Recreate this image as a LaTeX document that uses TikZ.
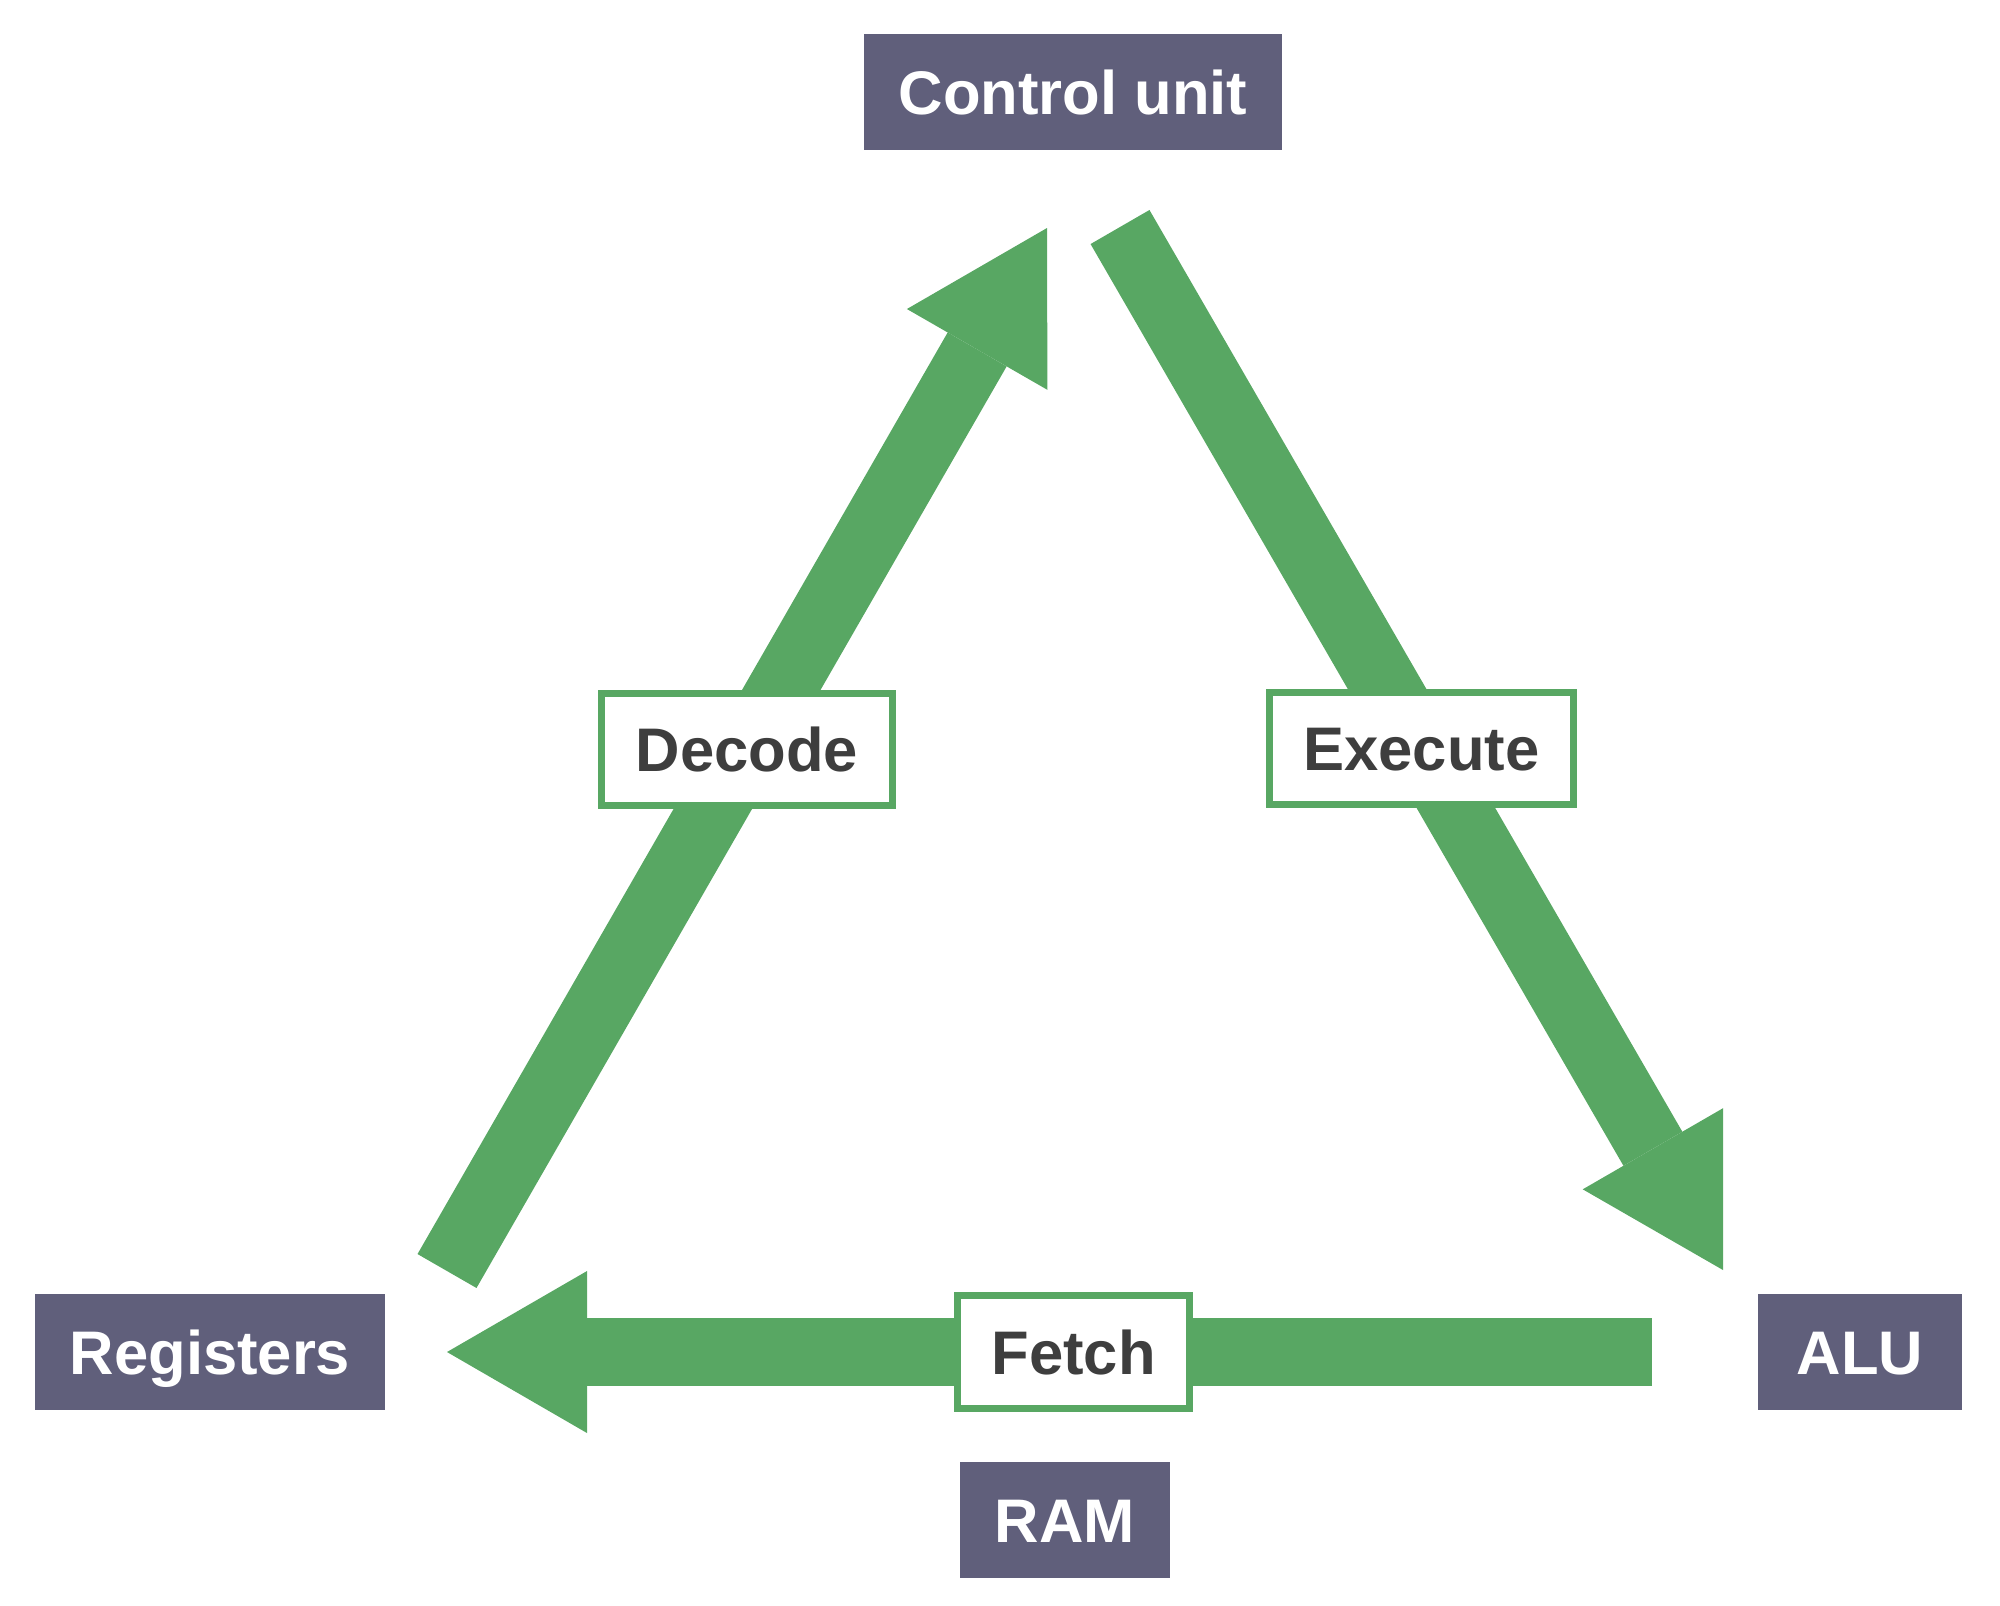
\documentclass[tikz,border=0pt]{standalone}
\usepackage{fontspec}
\setmainfont{Liberation Sans}
\usetikzlibrary{arrows.meta}
\usetikzlibrary{positioning}

\definecolor{unitgray}{RGB}{96,95,123}
\definecolor{flowgreen}{RGB}{88,167,99}
\definecolor{stagetext}{RGB}{62,62,62}

\begin{document}
\begin{tikzpicture}[x=0.01cm, y=-0.01cm,
    every node/.style={font=\fontsize{17.5}{21}\selectfont\bfseries, text height=0.44cm, text depth=0pt},
    unit/.style={rectangle, fill=unitgray, text=white, inner xsep=0.35cm, minimum height=1.15cm},
    stage/.style={rectangle, draw=flowgreen, line width=0.07cm, fill=white, text=stagetext, inner xsep=0.34cm, minimum height=1.12cm},
    flow/.style={draw=flowgreen, line width=0.68cm, -{Triangle[length=1.4cm, width=1.62cm, line width=0pt]}}]

      % Page frame, in pixels from the top left
      \useasboundingbox (0,0) rectangle (2000,1605);

      % Units round the cycle
      \node[unit] (cu) at (1073, 92) {Control unit};
      \node[unit] (reg) at (210, 1352) {Registers};
      \node[unit, minimum width=2.03cm] (alu) at (1860, 1352) {ALU};

      % Ends of the three arrows
      \coordinate (regtail) at (447, 1271);
      \coordinate (cutip) at (1047, 228);
      \coordinate (cutail) at (1120, 227);
      \coordinate (alutip) at (1723, 1270);
      \coordinate (alutail) at (1652, 1352);
      \coordinate (regtip) at (447, 1352);

      % Draw each arrow with its stage label on it
      \foreach \from/\to/\stagename/\where in {regtail/cutip/Decode/0.5, cutail/alutip/Execute/0.5, alutail/regtip/Fetch/0.48} {
        \draw[flow] (\from) -- (\to) node[stage, pos=\where] (\stagename) {\stagename};
      }

      % Memory sits under the fetch stage
      \node[unit] (ram) at (1065, 1520) {RAM};
    \end{tikzpicture}
\end{document}
